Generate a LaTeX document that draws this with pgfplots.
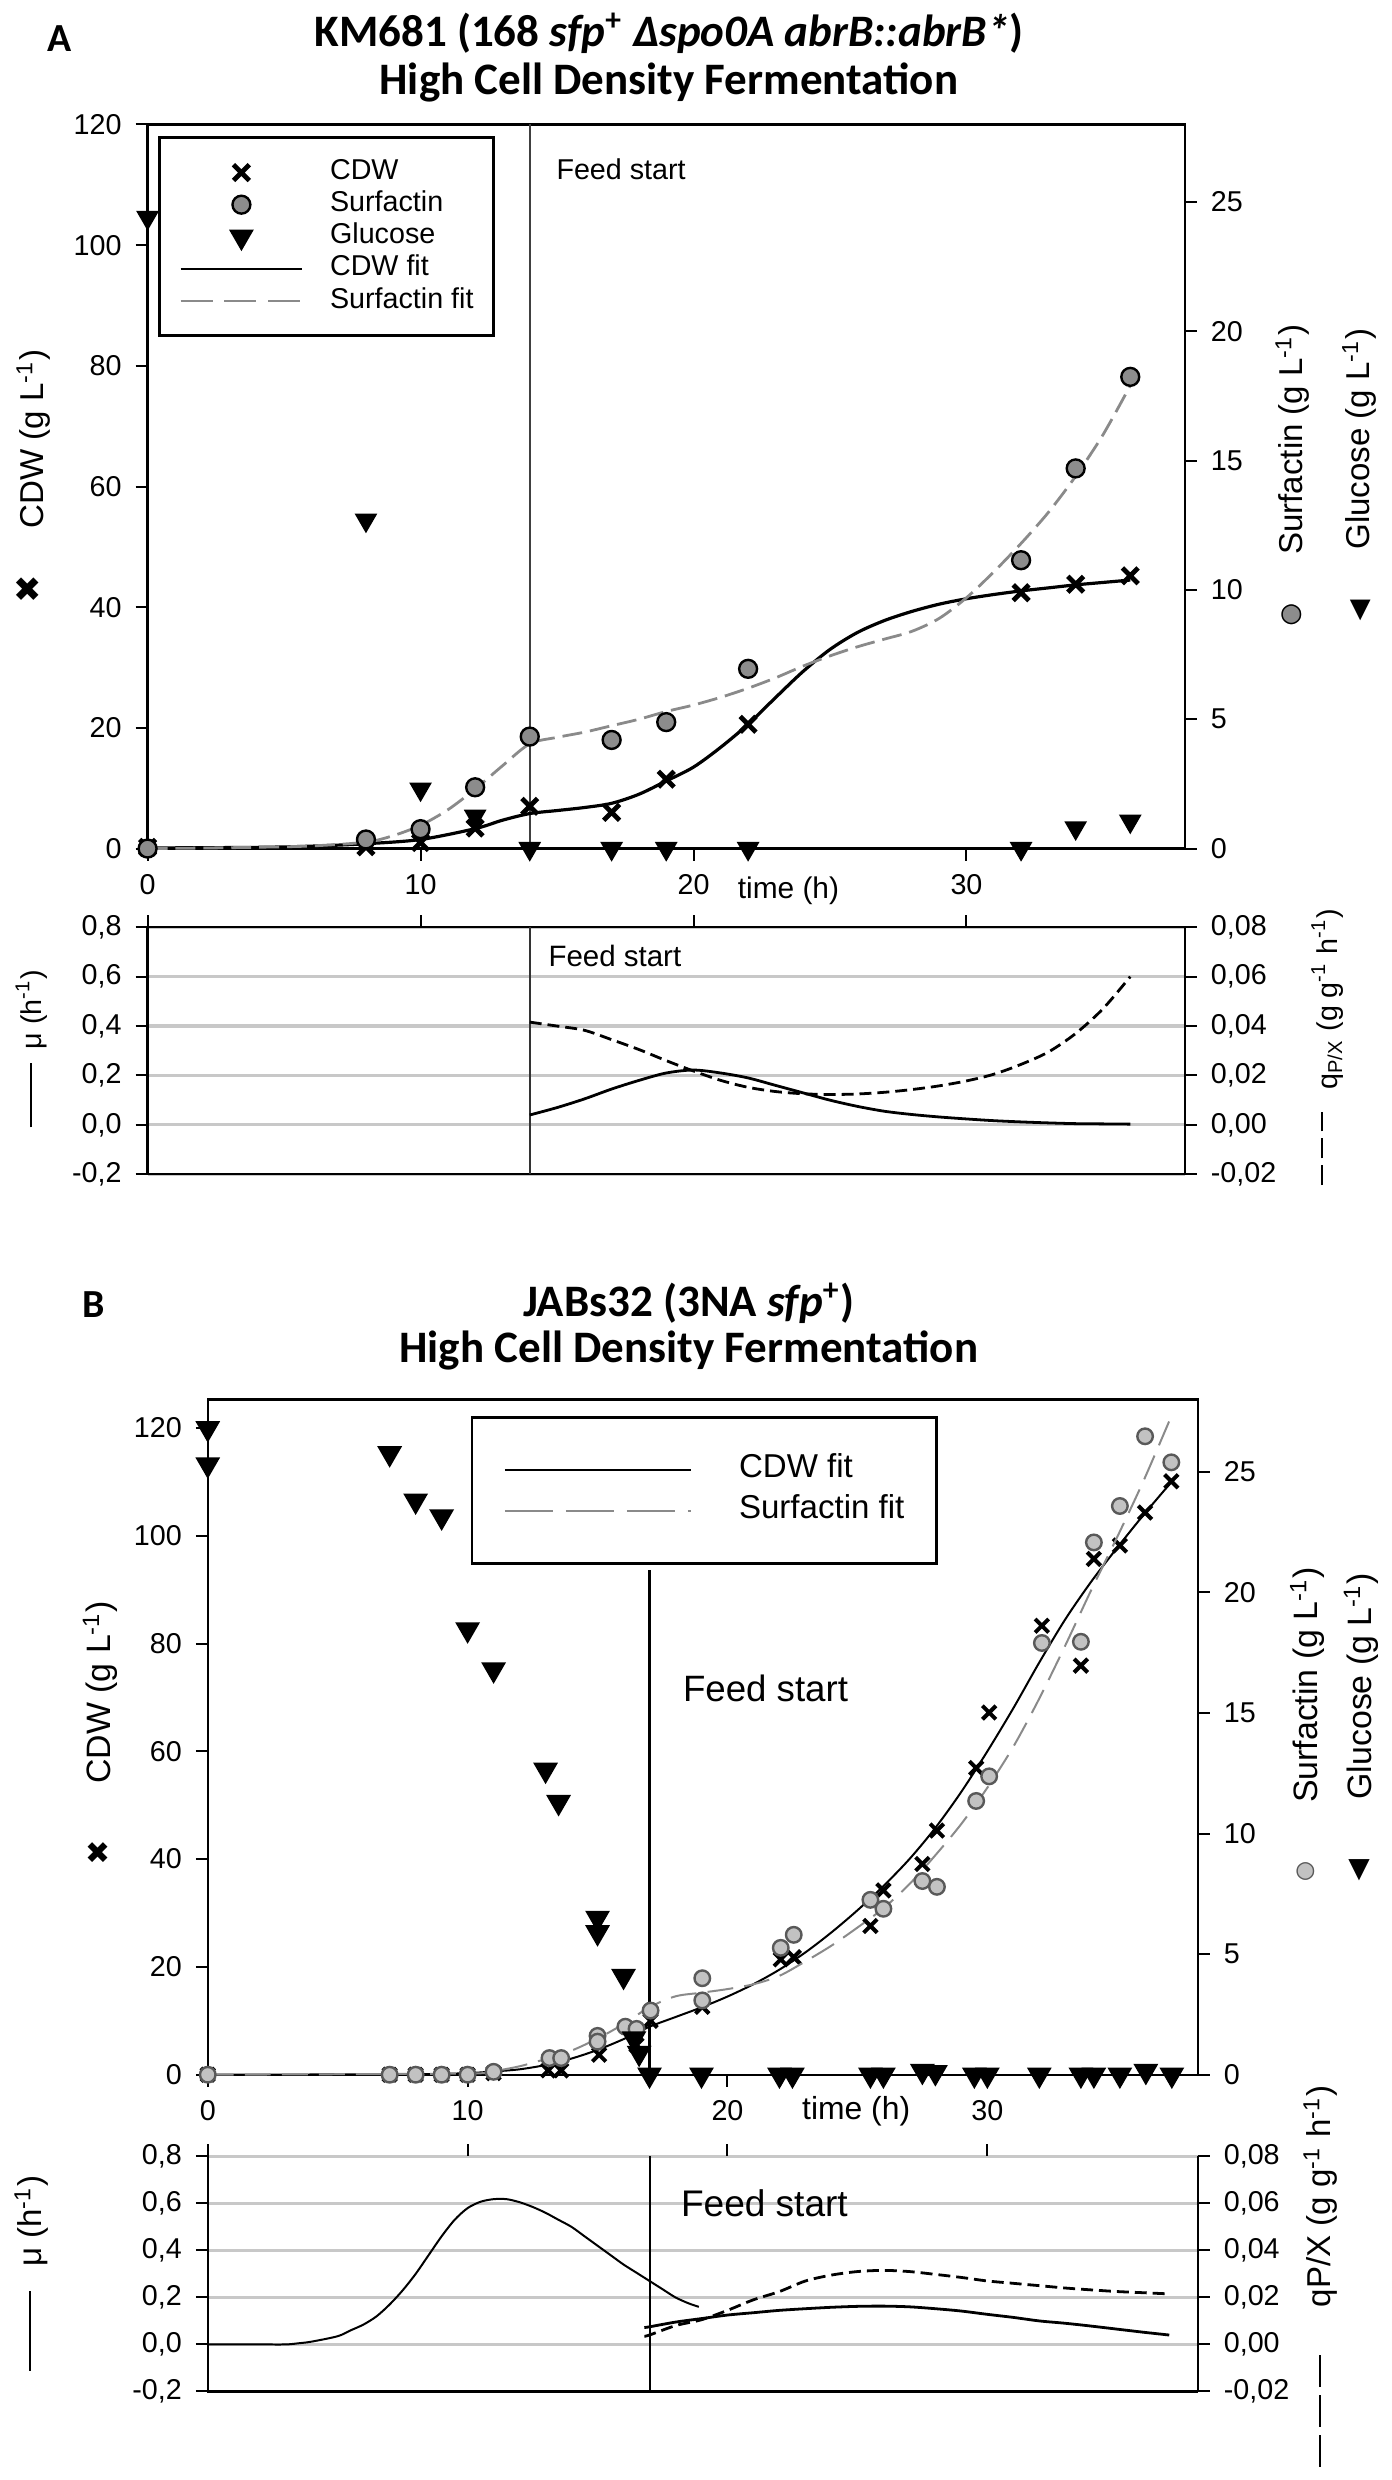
\documentclass[border=0pt]{standalone}
\usepackage{fontspec}
\setmainfont{Liberation Sans}
\newfontfamily\titlefont{Carlito}
\newfontfamily\symfont{DejaVu Sans}
\usepackage{pgfplots}
\pgfplotsset{compat=1.18}
\definecolor{surfA}{HTML}{8C8C8C}
\definecolor{surfB}{HTML}{C2C2C2}
\definecolor{gridgray}{HTML}{C8C8C8}
\definecolor{fitgray}{HTML}{8A8A8A}
\pgfplotsset{
  every axis/.append style={scale only axis, clip=false, tick align=outside, major tick length=3pt,
    tick style={black, line width=0.5pt}, axis line style={black, line width=0.6pt},
    tick label style={font=\fontsize{7.2}{8}\selectfont}, scaled ticks=false,
    /pgf/number format/assume math mode=true, xmin=0},
}
\begin{document}
\begin{tikzpicture}
\path (0pt,0pt) rectangle (347.5pt,-620pt);
% ================= PANEL A =================
\node[font={\titlefont\bfseries\fontsize{10}{10}\selectfont}] at (13.75pt,-8pt) {A};
\node[font={\titlefont\bfseries\fontsize{11.3}{12}\selectfont}, align=center] at (166.75pt,-12.75pt)
  {KM681 (168 \textit{sfp}\textsuperscript{+} \textit{Δspo0A abrB::abrB*})\\High Cell Density Fermentation};
% upper A, left axis
\begin{axis}[at={(35.9pt,-211.25pt)}, anchor=south west, width=260.35pt, height=181.75pt,
  xmax=38, ymin=0, ymax=120, ytick={0,20,40,60,80,100,120}, xtick={0,10,20,30},
  xtick pos=left, ytick pos=left,
  legend style={at={(0.010,0.9835)}, anchor=north west, draw=black, line width=0.7pt,
    font=\fontsize{7.2}{8}\selectfont, inner xsep=5pt, inner ysep=4.7pt, row sep=0pt, column sep=0pt,
    nodes={inner sep=0pt, text height=5.8pt, text depth=2.26pt}},
  legend cell align=left,
  legend image code/.code={\draw[mark repeat=2,mark phase=2,#1] plot coordinates {(0pt,0pt) (15.25pt,0pt) (30.5pt,0pt)}; \path[draw=none] (30.5pt,0pt) -- (37.5pt,0pt);},
  every legend text/.append style={text width=41pt}]
\addplot[forget plot, black!75, line width=0.5pt] coordinates {(14,0) (14,120)};
\addplot[forget plot, black, line width=0.8pt, smooth] coordinates {
(0,0.1) (4,0.2) (6,0.4) (8,0.8) (10,1.5) (12,3.3) (13,4.7) (14,5.8) (15,6.3) (16,6.8) (17,7.5) (18,9.0)
(19,11.2) (20,13.5) (21,16.8) (22,20.6) (23,25.0) (24,29.3) (25,33.0) (26,35.8) (27,37.8) (28,39.3)
(29,40.5) (30,41.4) (31,42.1) (32,42.7) (33,43.2) (34,43.7) (35,44.1) (36,44.5)};
\addplot[forget plot, only marks, mark=x, mark size=2.8pt, mark options={line width=1.2pt}, black] coordinates {
(0,0.2) (8,0.3) (10,1.0) (12,3.4) (14,7.0) (17,6.0) (19,11.5) (22,20.6) (32,42.4) (34,43.8) (36,45.2)};
\addlegendimage{only marks, mark=x, mark size=2.8pt, mark options={line width=1.2pt}, black}
\addlegendentry{CDW}
\addlegendimage{only marks, mark=*, mark size=2.25pt, mark options={fill=surfA, draw=black, line width=0.6pt}}
\addlegendentry{Surfactin}
\addlegendimage{only marks, mark=triangle*, mark size=2.9pt, mark options={rotate=180, fill=black, draw=black}}
\addlegendentry{Glucose}
\addlegendimage{black, line width=0.7pt}
\addlegendentry{CDW fit}
\addlegendimage{fitgray, line width=0.7pt, dash pattern=on 8pt off 3pt}
\addlegendentry{Surfactin fit}
\end{axis}
% upper A, right axis
\begin{axis}[at={(35.9pt,-211.25pt)}, anchor=south west, width=260.35pt, height=181.75pt,
  xmax=38, ymin=0, ymax=28, ytick={0,5,10,15,20,25}, axis x line=none, axis y line*=right]
\addplot[fitgray, line width=0.7pt, dash pattern=on 5pt off 2pt, smooth] coordinates {
(0,0) (2,0.02) (4,0.05) (6,0.1) (8,0.25) (9,0.5) (10,0.9) (11,1.5) (12,2.3) (13,3.2) (14,4.05) (15,4.3)
(16,4.5) (17,4.75) (18,5.0) (19,5.3) (20,5.55) (21,5.85) (22,6.2) (23,6.6) (24,7.05) (25,7.45) (26,7.8)
(27,8.1) (28,8.4) (29,8.9) (30,9.7) (31,10.7) (32,11.8) (33,13.0) (34,14.4) (35,16.0) (36,17.9)};
\addplot[only marks, mark=*, mark size=2.25pt, mark options={fill=surfA, draw=black, line width=0.6pt}] coordinates {
(0,0) (8,0.35) (10,0.75) (12,2.37) (14,4.33) (17,4.2) (19,4.89) (22,6.95) (32,11.15) (34,14.7) (36,18.24)};
\addplot[only marks, mark=triangle*, mark size=2.9pt, mark options={rotate=180, fill=black, draw=black}] coordinates {
(0,24.4) (8,12.7) (10,2.3) (12,1.25) (14,0) (17,0) (19,0) (22,0) (32,0) (34,0.8) (36,1.06)};
\end{axis}
\node[font=\fontsize{7.5}{8}\selectfont] at (196.75pt,-221.75pt) {time (h)};
\node[font=\fontsize{7.2}{8}\selectfont, anchor=west] at (135pt,-40.75pt) {Feed start};
% side labels upper A
\node[rotate=90, font=\fontsize{8.3}{9}\selectfont] at (7.25pt,-108.5pt) {CDW (g L\textsuperscript{-1})};
\node[font={\symfont\fontsize{8.5}{9}\selectfont}] at (5.75pt,-146.25pt) {✖};
\node[rotate=90, font=\fontsize{8.3}{9}\selectfont] at (323.25pt,-108.6pt) {Surfactin (g L\textsuperscript{-1})};
\node[rotate=90, font=\fontsize{8.3}{9}\selectfont] at (340pt,-108.5pt) {Glucose (g L\textsuperscript{-1})};
\node[font={\symfont\fontsize{6.5}{7}\selectfont}] at (323pt,-152.5pt) {\rlap{\color{surfA}●}○};
\node[font={\symfont\fontsize{6.8}{7}\selectfont}] at (340.25pt,-151.5pt) {▼};
% lower A, left axis
\begin{axis}[at={(35.9pt,-293pt)}, anchor=south west, width=260.35pt, height=62pt,
  xmax=38, ymin=-0.2, ymax=0.8, ytick={-0.2,0,0.2,0.4,0.6,0.8},
  yticklabels={{-0,2},{0,0},{0,2},{0,4},{0,6},{0,8}}, ytick pos=left,
  xtick={0,10,20,30}, xtick pos=right, xticklabels={},
  ymajorgrids, grid style={gridgray, line width=0.8pt}]
\addplot[black!80, line width=0.4pt] coordinates {(14,-0.2) (14,0.8)};
\addplot[black, line width=0.7pt, smooth] coordinates {
(14,0.04) (15,0.07) (16,0.105) (17,0.145) (18,0.18) (19,0.21) (20,0.222) (21,0.21) (22,0.19) (23,0.16)
(24,0.13) (25,0.10) (26,0.075) (27,0.055) (28,0.042) (29,0.032) (30,0.024) (31,0.017) (32,0.012)
(33,0.008) (34,0.005) (35,0.004) (36,0.003)};
\end{axis}
% lower A, right axis
\begin{axis}[at={(35.9pt,-293pt)}, anchor=south west, width=260.35pt, height=62pt,
  xmax=38, ymin=-0.02, ymax=0.08, ytick={-0.02,0,0.02,0.04,0.06,0.08},
  yticklabels={{-0,02},{0,00},{0,02},{0,04},{0,06},{0,08}},
  axis x line=none, axis y line*=right]
\addplot[black, line width=0.7pt, dash pattern=on 3pt off 1.5pt, smooth] coordinates {
(14,0.0416) (15,0.040) (16,0.0383) (17,0.0345) (18,0.0305) (19,0.026) (20,0.0218) (21,0.018) (22,0.0152)
(23,0.0135) (24,0.0126) (25,0.0123) (26,0.0125) (27,0.0132) (28,0.0143) (29,0.0158) (30,0.0178)
(31,0.0205) (32,0.0245) (33,0.0295) (34,0.037) (35,0.047) (36,0.060)};
\end{axis}
\node[font=\fontsize{7.4}{8}\selectfont, anchor=west] at (133pt,-238.25pt) {Feed start};
\node[rotate=90, font=\fontsize{7.2}{8}\selectfont] at (6.75pt,-251.6pt) {μ (h\textsuperscript{-1})};
\node at (6.75pt,-273.1pt) {\rule{0.5pt}{16.25pt}};
\node[rotate=90, font=\fontsize{7.2}{8}\selectfont] at (332pt,-249.1pt) {q\textsubscript{P/X} (g g\textsuperscript{-1} h\textsuperscript{-1})};
\node[rotate=90] at (330.75pt,-286.5pt) {\rule{5pt}{0.5pt}\hspace{1.75pt}\rule{5pt}{0.5pt}\hspace{1.75pt}\rule{5pt}{0.5pt}};
% ================= PANEL B =================
\node[font={\titlefont\bfseries\fontsize{10}{10}\selectfont}] at (22.25pt,-325.75pt) {B};
\node[font={\titlefont\bfseries\fontsize{11.3}{11.5}\selectfont}, align=center] at (171.75pt,-331.25pt)
  {JABs32 (3NA \textit{sfp}\textsuperscript{+})\\High Cell Density Fermentation};
% upper B, left axis
\begin{axis}[at={(51pt,-519pt)}, anchor=south west, width=248.5pt, height=169.5pt,
  xmax=38.1, ymin=0, ymax=125.3, ytick={0,20,40,60,80,100,120}, xtick={0,10,20,30},
  xtick pos=left, ytick pos=left,
  legend style={at={(0.2656,0.975)}, anchor=north west, draw=black, line width=0.6pt,
    font=\fontsize{8.3}{9}\selectfont, inner xsep=8pt, inner ysep=8.1pt, row sep=0pt, column sep=0pt,
    nodes={inner sep=0pt, text height=7pt, text depth=3.25pt}},
  legend cell align=left,
  legend image code/.code={\draw[#1] (0pt,0pt) -- (46.75pt,0pt); \path[draw=none] (46.75pt,0pt) -- (58.75pt,0pt);},
  every legend text/.append style={text width=55pt}]
\addplot[forget plot, black, line width=0.6pt] coordinates {(17,0) (17,93.7)};
\addplot[forget plot, black, line width=0.5pt, smooth] coordinates {
(0,0) (8,0.1) (10,0.3) (11,0.6) (12,1.0) (13,1.8) (14,3.0) (15,4.6) (16,6.6) (17,8.9) (18,10.7) (19,12.5)
(20,14.5) (21,16.8) (22,19.5) (23,22.7) (24,26.4) (25,30.5) (26,35.0) (27,40.0) (28,45.8) (29,52.5)
(30,60.0) (31,68.0) (32,76.5) (33,84.5) (34,91.5) (35,97.8) (36,103.8) (37,109.5)};
\addplot[forget plot, only marks, mark=x, mark size=2.4pt, mark options={line width=1.0pt}, black] coordinates {
(0,0) (7,0) (8,0) (9,0) (10,0) (11,0.3) (13.1,0.8) (13.6,0.8) (15.06,3.7) (16.5,5.5) (17.04,10.0)
(19.03,12.6) (22.05,21.4) (22.55,21.8) (25.5,27.6) (26,34.2) (27.5,39.1) (28.06,45.3) (29.57,56.9)
(30.07,67.2) (32.1,83.3) (33.6,75.9) (34.1,95.7) (35.1,98.2) (36.07,104.3) (37.08,110.1)};
\addlegendimage{black, line width=0.6pt}
\addlegendentry{CDW fit}
\addlegendimage{fitgray, line width=0.6pt, dash pattern=on 12pt off 3.3pt}
\addlegendentry{Surfactin fit}
\end{axis}
% upper B, right axis
\begin{axis}[at={(51pt,-519pt)}, anchor=south west, width=248.5pt, height=169.5pt,
  xmax=38.1, ymin=0, ymax=28, ytick={0,5,10,15,20,25}, axis x line=none, axis y line*=right]
\addplot[fitgray, line width=0.5pt, dash pattern=on 6.5pt off 2.8pt, smooth] coordinates {
(0,0) (10,0.05) (11,0.15) (12,0.35) (13,0.65) (14,1.0) (15,1.5) (16,2.1) (17,2.8) (18,3.25) (19,3.4)
(20,3.55) (21,3.75) (22,4.1) (23,4.7) (24,5.35) (25,6.1) (26,6.9) (27,7.9) (28,9.1) (29,10.4) (30,11.9)
(31,13.6) (32,15.6) (33,17.8) (34,20.1) (35,22.3) (36,24.6) (37,27.1)};
\addplot[only marks, mark=*, mark size=1.95pt, mark options={fill=surfB, draw=black!65, line width=0.6pt}] coordinates {
(0,0) (7,0) (8,0) (9,0) (10,0) (11,0.12) (13.15,0.69) (13.6,0.69) (15,1.61) (15,1.37) (16.07,1.99)
(16.5,1.9) (17.04,2.66) (19.03,4.0) (19.03,3.08) (22.05,5.26) (22.55,5.8) (25.5,7.25) (26,6.88)
(27.5,8.03) (28.06,7.79) (29.57,11.35) (30.07,12.37) (32.1,17.9) (33.6,17.95) (34.1,22.07) (35.1,23.58)
(36.07,26.47) (37.08,25.39)};
\addplot[only marks, mark=triangle*, mark size=3.2pt, mark options={rotate=180, fill=black, draw=black}] coordinates {
(0,26.8) (0,25.3) (7,25.76) (8,23.8) (9,23.14) (10,18.46) (11,16.8) (13,12.64) (13.5,11.3) (15,6.5)
(15,5.9) (16,4.09) (16.4,1.5) (16.6,0.9) (17,0) (19,0) (22,0) (22.5,0) (25.5,0) (26,0) (27.5,0.15)
(28,0.1) (29.5,0) (30,0) (32,0) (33.6,0) (34.1,0) (35.1,0) (36.1,0.15) (37.1,0)};
\end{axis}
\node[font=\fontsize{8}{9}\selectfont] at (213.75pt,-528.25pt) {time (h)};
\node[font=\fontsize{9.2}{10}\selectfont, anchor=west] at (166.75pt,-422pt) {Feed start};
\node[rotate=90, font=\fontsize{8.5}{9}\selectfont] at (24pt,-423pt) {CDW (g L\textsuperscript{-1})};
\node[font={\symfont\fontsize{7.5}{8}\selectfont}] at (23.5pt,-463.25pt) {✖};
\node[rotate=90, font=\fontsize{8.5}{9}\selectfont] at (327pt,-421.2pt) {Surfactin (g L\textsuperscript{-1})};
\node[rotate=90, font=\fontsize{8.5}{9}\selectfont] at (340.5pt,-421.5pt) {Glucose (g L\textsuperscript{-1})};
\node[font={\symfont\fontsize{5.8}{7}\selectfont}] at (326.5pt,-468pt) {\rlap{\color{surfB}●}\textcolor{black!65}{○}};
\node[font={\symfont\fontsize{7}{7}\selectfont}] at (340pt,-467.75pt) {▼};
% lower B, left axis
\begin{axis}[at={(51pt,-598.5pt)}, anchor=south west, width=248.5pt, height=59pt,
  xmax=38.1, ymin=-0.2, ymax=0.8, ytick={-0.2,0,0.2,0.4,0.6,0.8},
  yticklabels={{-0,2},{0,0},{0,2},{0,4},{0,6},{0,8}}, ytick pos=left,
  xtick={0,10,20,30}, xtick pos=right, xticklabels={},
  axis line style={draw=none},
  ymajorgrids, grid style={gridgray, line width=0.8pt}]
\draw[black, line width=0.6pt] (rel axis cs:0,1) -- (rel axis cs:0,0) -- (rel axis cs:1,0);
\addplot[black, line width=0.5pt] coordinates {(17,-0.2) (17,0.8)};
\addplot[black, line width=0.5pt, smooth] coordinates {
(0,0) (1,0) (2,0) (3,0) (3.5,0.005) (4,0.012) (5,0.035) (5.5,0.06) (6,0.085) (6.5,0.12) (7,0.17)
(7.5,0.23) (8,0.3) (8.5,0.38) (9,0.46) (9.5,0.53) (10,0.58) (10.5,0.607) (11,0.618) (11.5,0.618)
(12,0.605) (12.5,0.585) (13,0.56) (13.5,0.53) (14,0.5) (14.5,0.46) (15,0.42) (15.5,0.38) (16,0.34)
(16.5,0.305) (17,0.27) (17.5,0.235) (18,0.2) (18.5,0.175) (18.9,0.16)};
\addplot[black, line width=0.7pt, smooth] coordinates {
(16.8,0.072) (17,0.075) (18,0.095) (19,0.11) (20,0.125) (21,0.135) (22,0.145) (23,0.152) (24,0.158)
(25,0.162) (26,0.163) (27,0.16) (28,0.152) (29,0.142) (30,0.128) (31,0.115) (32,0.1) (33,0.09)
(34,0.078) (35,0.065) (36,0.052) (37,0.04)};
\end{axis}
% lower B, right axis
\begin{axis}[at={(51pt,-598.5pt)}, anchor=south west, width=248.5pt, height=59pt,
  xmax=38.1, ymin=-0.02, ymax=0.08, ytick={-0.02,0,0.02,0.04,0.06,0.08},
  yticklabels={{-0,02},{0,00},{0,02},{0,04},{0,06},{0,08}},
  axis x line=none, axis y line*=right]
\addplot[black, line width=0.7pt, dash pattern=on 3pt off 1.5pt, smooth] coordinates {
(16.8,0.0035) (17,0.004) (18,0.008) (19,0.0105) (20,0.0145) (21,0.019) (22,0.0225) (23,0.027) (24,0.0295)
(25,0.031) (26,0.0315) (27,0.031) (28,0.0298) (29,0.0285) (30,0.027) (31,0.026) (32,0.025) (33,0.024)
(34,0.0232) (35,0.0225) (36,0.022) (37,0.0215)};
\end{axis}
\node[font=\fontsize{9.3}{10}\selectfont, anchor=west] at (166.25pt,-551.25pt) {Feed start};
\node[rotate=90, font=\fontsize{8.3}{9}\selectfont] at (6.75pt,-555.75pt) {μ (h\textsuperscript{-1})};
\node at (6.5pt,-583.25pt) {\rule{0.5pt}{20pt}};
\node[rotate=90, font=\fontsize{8.3}{9}\selectfont] at (330.25pt,-549.5pt) {qP/X (g g\textsuperscript{-1} h\textsuperscript{-1})};
\node[rotate=90] at (330.25pt,-603.4pt) {\rule{8pt}{0.5pt}\hspace{2pt}\rule{8pt}{0.5pt}\hspace{2pt}\rule{8pt}{0.5pt}};
\end{tikzpicture}
\end{document}
